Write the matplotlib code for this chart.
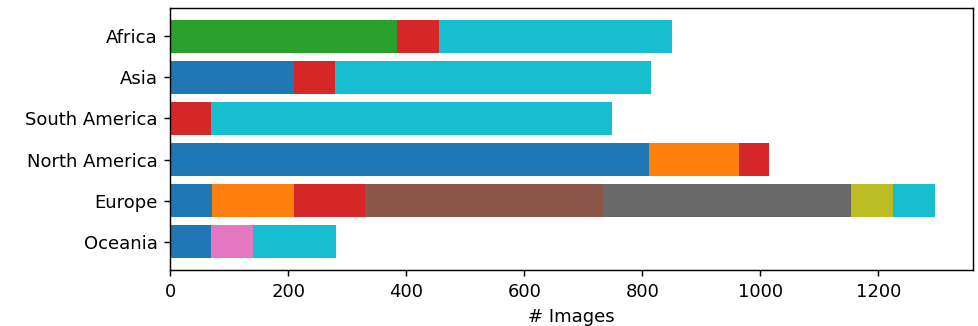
import matplotlib
matplotlib.use("Agg")
import matplotlib.pyplot as plt
import numpy as np

# Regions, listed bottom to top
regions = ["Oceania", "Europe", "North America", "South America", "Asia", "Africa"]

# Image counts per source, one value per region (same order as above)
src_blue = [69, 71, 812, 0, 209, 0]
src_orange = [0, 139, 151, 0, 0, 0]
src_green = [0, 0, 0, 0, 0, 385]
src_red = [0, 120, 51, 69, 70, 71]
src_brown = [0, 403, 0, 0, 0, 0]
src_pink = [71, 0, 0, 0, 0, 0]
src_gray = [0, 421, 0, 0, 0, 0]
src_olive = [0, 70, 0, 0, 0, 0]
src_cyan = [140, 71, 0, 680, 536, 395]

sources = [
    (src_blue, "tab:blue"),
    (src_orange, "tab:orange"),
    (src_green, "tab:green"),
    (src_red, "tab:red"),
    (src_brown, "tab:brown"),
    (src_pink, "tab:pink"),
    (src_gray, "dimgray"),
    (src_olive, "tab:olive"),
    (src_cyan, "tab:cyan"),
]

fig = plt.figure(figsize=(978 / 130, 326 / 130), dpi=130)
ax = fig.add_axes([0.1741, 0.1718, 0.9946 - 0.1741, 0.9755 - 0.1718])

y = np.arange(len(regions))
left = np.zeros(len(regions))
for values, color in sources:
    vals = np.array(values, dtype=float)
    ax.barh(y, vals, left=left, color=color)
    left += vals

ax.set_yticks(y)
ax.set_yticklabels(regions)
ax.set_xlabel("# Images")

fig.savefig("out.png", dpi=130)
